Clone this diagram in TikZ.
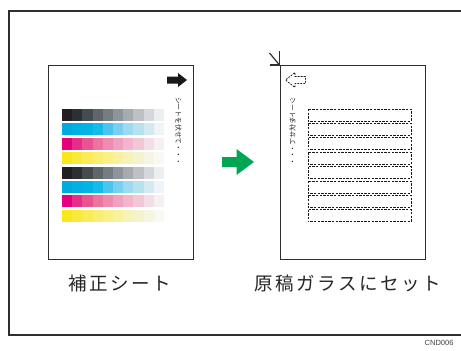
\documentclass[tikz,border=0pt]{standalone}
\usepackage{fontspec}
\newfontfamily\cjk{Noto Sans CJK JP}
\newfontfamily\cjkwide[LetterSpace=13.5]{Noto Sans CJK JP}
\setsansfont{Liberation Sans}
\definecolor{frame}{HTML}{2E2E2E}
\definecolor{arrowgreen}{HTML}{00A651}
\def\listK{231F20,2A3033,454C4F,5F6668,767D82,8E959A,A5ABAF,BCC1C6,D4D7DB,ECEFF0}
\def\listC{00A9E0,00B0E4,00B5E6,14BBE8,4DC4EE,79CFEF,9DD9F0,B8E1EE,D3EAF2,EEF4F7}
\def\listM{E6007E,E62D8A,E8548F,EC74A0,EF8AB0,EFA2C0,F3B4CC,F2C8D8,F3DDE6,F6F0F3}
\def\listY{F8E71C,F9E93A,F9EC58,F9EE72,FBF088,F9F1A0,F6F2BA,F4F3CF,F5F5E0,F8F9F2}
\tikzset{
  sheet/.style={draw=frame,line width=1.3pt,fill=white,inner sep=0pt,minimum width=145pt,minimum height=194pt},
  label/.style={font=\cjkwide\fontsize{18.5}{20}\selectfont,text=black!85,inner sep=0pt},
  tiny/.style={font=\cjk\fontsize{6.8}{7}\selectfont,text=black!85,inner sep=0pt},
  dbox/.style={draw=black!90,dashed,dash pattern=on 2.4pt off 1.2pt,line width=0.95pt}
}
\begin{document}
\begin{tikzpicture}[x=1pt,y=-1pt]
\useasboundingbox (0,0) rectangle (461,351);
\fill[white] (0,0) rectangle (461,351);
% outer frame
\draw[frame,line width=2pt] (461,10.5) -- (8.5,10.5) -- (8.5,334.5) -- (461,334.5);
% left sheet
\node[sheet,anchor=north west] (L) at (48,65) {};
% colour bars
\foreach \r/\yy in {K/109,C/123.4,M/137.8,Y/152.2,K/166.6,C/181,M/195.4,Y/209.8}{
  \edef\curlist{\csname list\r\endcsname}
  \foreach \c [count=\i from 0] in \curlist {
    \definecolor{tmpc}{HTML}{\c}
    \fill[tmpc] (62+10.2*\i,\yy) rectangle (62+10.2*\i+10.3,\yy+12);
  }
}
% black arrow
\fill[black!90] (167,76.5) -- (178,76.5) -- (178,73) -- (187,80) -- (178,87) -- (178,83.5) -- (167,83.5) -- cycle;
\node[tiny,rotate=-90] (lt) at (178.5,131) {シートを伏せて・・・};
% green arrow
\fill[arrowgreen] (222,157) -- (236.5,157) -- (236.5,149) -- (254,162) -- (236.5,175) -- (236.5,167) -- (222,167) -- cycle;
% right sheet
\node[sheet,anchor=north west] (R) at (279.5,65) {};
\coordinate (rc) at (R.north west);
\draw[frame,line width=1.2pt] (269.5,53) -- (rc);
\draw[frame,line width=1.2pt] ([yshift=14pt]rc) -- (rc) -- ([xshift=-10pt]rc);
% dashed bars
\foreach \yy in {109,123.4,137.8,152.2,166.6,181,195.4,209.8}{
  \draw[dbox] (308,\yy) rectangle (411,\yy+12);
}
% dashed arrow
\draw[dbox,line width=0.8pt,dash pattern=on 1.8pt off 1.2pt] (305.5,76.5) -- (295,76.5) -- (295,72.5) -- (285.5,80) -- (295,87.5) -- (295,83.5) -- (305.5,83.5) -- cycle;
\node[tiny,rotate=-90] (rt) at (292.5,131.5) {\scalebox{1}[-1]{シートを伏せて・・・}};
% labels
\node[label] (la) at (120,283.5) {補正シート};
\node[label] (lb) at (348,283.5) {原稿ガラスにセット};
\node[font=\sffamily\fontsize{7.5}{8}\selectfont,text=black!75,anchor=north west,inner sep=0pt] (code) at (424.5,340.5) {CND006};
\end{tikzpicture}
\end{document}
